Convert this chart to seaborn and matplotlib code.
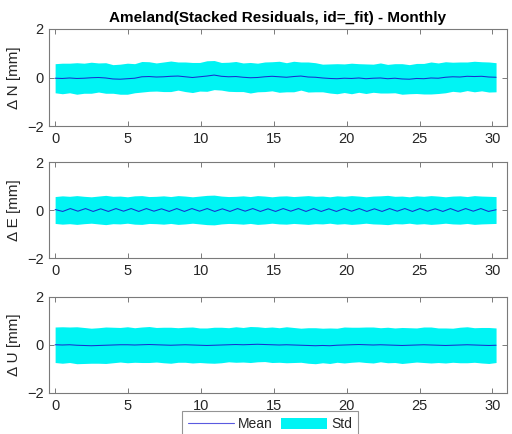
import numpy as np
import matplotlib
matplotlib.use("Agg")
import matplotlib.pyplot as plt
import seaborn as sns
import pandas as pd

# Stacked residuals folded onto a monthly cycle (days), per component, in mm
n_mean = [-0.03, -0.04, -0.02, -0.04, -0.03, -0.01, 0.00, -0.02, -0.06, -0.07,
          -0.05, -0.03, 0.03, 0.04, 0.02, 0.03, 0.05, 0.06, 0.03, 0.00,
          0.03, 0.06, 0.10, 0.05, 0.03, 0.04, 0.01, -0.01, 0.00, 0.03,
          0.05, 0.03, 0.01, 0.04, 0.06, 0.02, 0.01, -0.02, -0.04, -0.05,
          -0.03, -0.04, -0.02, -0.05, -0.03, -0.02, -0.05, -0.03, -0.06, -0.07,
          -0.04, -0.05, -0.02, -0.03, 0.01, 0.03, 0.02, 0.05, 0.04, 0.05,
          0.02, 0.01]
n_std = [0.60, 0.63, 0.61, 0.65, 0.62, 0.64, 0.60, 0.63, 0.59, 0.62,
         0.64, 0.60, 0.63, 0.61, 0.58, 0.61, 0.63, 0.58, 0.61, 0.62,
         0.59, 0.63, 0.60, 0.57, 0.60, 0.62, 0.59, 0.63, 0.59, 0.61,
         0.60, 0.64, 0.60, 0.63, 0.58, 0.62, 0.60, 0.57, 0.60, 0.62,
         0.59, 0.63, 0.59, 0.61, 0.58, 0.62, 0.59, 0.60, 0.63, 0.60,
         0.62, 0.63, 0.66, 0.63, 0.64, 0.60, 0.62, 0.59, 0.63, 0.60,
         0.62, 0.60]

e_mean = [0.02, -0.06, 0.06, -0.05, 0.06, -0.06, 0.05, -0.06, 0.06, -0.05,
          0.06, -0.06, 0.06, -0.05, 0.05, -0.06, 0.06, -0.06, 0.06, -0.05,
          0.06, -0.06, 0.05, -0.06, 0.06, -0.05, 0.06, -0.06, 0.05, -0.06,
          0.06, -0.05, 0.06, -0.06, 0.06, -0.06, 0.05, -0.06, 0.06, -0.05,
          0.06, -0.06, 0.05, -0.06, 0.06, -0.05, 0.06, -0.06, 0.06, -0.05,
          0.05, -0.06, 0.06, -0.06, 0.06, -0.05, 0.06, -0.06, 0.01]
e_std = [0.56, 0.59, 0.57, 0.60, 0.57, 0.55, 0.58, 0.61, 0.57, 0.58,
         0.55, 0.59, 0.60, 0.56, 0.57, 0.59, 0.56, 0.60, 0.58, 0.55,
         0.58, 0.61, 0.62, 0.58, 0.56, 0.57, 0.59, 0.56, 0.60, 0.58,
         0.55, 0.58, 0.59, 0.56, 0.58, 0.60, 0.57, 0.58, 0.55, 0.59,
         0.57, 0.60, 0.58, 0.55, 0.58, 0.59, 0.61, 0.57, 0.58, 0.55,
         0.59, 0.57, 0.60, 0.58, 0.55, 0.58, 0.59, 0.56, 0.60, 0.58,
         0.57, 0.56]

u_mean = [0.01, 0.00, 0.01, -0.01, -0.02, -0.03, -0.02, -0.01, 0.00, 0.01,
          0.01, 0.00, 0.01, 0.02, 0.01, 0.00, -0.01, 0.00, 0.01, 0.00,
          -0.01, -0.02, -0.01, 0.00, 0.01, 0.02, 0.01, 0.02, 0.03, 0.02,
          0.01, 0.00, 0.01, 0.00, -0.01, -0.02, -0.03, -0.02, -0.03, -0.01,
          0.00, 0.01, 0.02, 0.01, 0.00, 0.01, 0.00, -0.01, -0.02, -0.01,
          0.00, 0.01, 0.00, -0.01, -0.02, -0.01, 0.00, 0.01, 0.00, -0.01,
          -0.02, -0.01]
u_std = [0.74, 0.76, 0.74, 0.77, 0.75, 0.73, 0.74, 0.76, 0.74, 0.72,
         0.75, 0.72, 0.74, 0.75, 0.72, 0.74, 0.75, 0.72, 0.73, 0.75,
         0.72, 0.73, 0.75, 0.74, 0.71, 0.74, 0.72, 0.75, 0.73, 0.71,
         0.74, 0.72, 0.75, 0.73, 0.71, 0.74, 0.75, 0.72, 0.74, 0.71,
         0.75, 0.73, 0.72, 0.74, 0.75, 0.71, 0.74, 0.72, 0.75, 0.73,
         0.71, 0.74, 0.75, 0.72, 0.73, 0.71, 0.74, 0.75, 0.72, 0.74,
         0.75, 0.72]

components = ["N", "E", "U"]
means = [n_mean, e_mean, u_mean]
stds = [n_std, e_std, u_std]
x_ticks = [0, 5, 10, 15, 20, 25, 30]
y_ticks = [-2, 0, 2]
last_day = 30.25

sns.set_theme(style="ticks")
plt.rcParams["font.family"] = ["Liberation Sans", "DejaVu Sans"]

W, H = 512, 434
fig = plt.figure(figsize=(W / 100, H / 100), dpi=100)

# axes boxes in pixel coords: (left, top, right, bottom)
boxes = [(49, 29, 507, 126), (49, 162, 507, 258), (49, 297, 507, 393)]
frame_col = "#7a7a7a"
text_col = "#262626"

axes = []
for comp, m, s, (l, t, r, b) in zip(components, means, stds, boxes):
    ax = fig.add_axes([l / W, (H - b) / H, (r - l) / W, (b - t) / H])
    m = np.asarray(m)
    s = np.asarray(s)
    d_std = np.linspace(0, last_day, len(s))
    d_mean = np.linspace(0, last_day, len(m))
    center = m if len(m) == len(s) else np.zeros_like(s)
    ax.fill_between(d_std, center - s, center + s, color="#00f4f4",
                    linewidth=0, label="Std", zorder=1)
    df = pd.DataFrame({"day": d_mean, "value": m})
    sns.lineplot(data=df, x="day", y="value", ax=ax, color="#1530d0",
                 linewidth=0.75, label="Mean", legend=False, zorder=2)
    ax.set_xlim(-0.42, 31)
    ax.set_ylim(-2, 2)
    ax.set_xticks(x_ticks)
    ax.set_yticks(y_ticks)
    ax.tick_params(direction="in", length=3.5, width=0.7, colors=frame_col,
                   labelcolor=text_col, labelsize=10.5, top=True, right=True,
                   pad=4)
    for sp in ax.spines.values():
        sp.set_visible(True)
        sp.set_color(frame_col)
        sp.set_linewidth(0.8)
    ax.set_xlabel("")
    ax.set_ylabel(f"\u0394 {comp} [mm]", fontsize=11, color=text_col)
    ax.yaxis.set_label_coords(-0.062, 0.5)
    axes.append(ax)

axes[0].set_title("Ameland(Stacked Residuals, id=_fit) - Monthly",
                  fontsize=11, fontweight="bold", color="black", pad=5)

handles, labels = axes[2].get_legend_handles_labels()
order = [labels.index("Mean"), labels.index("Std")]
leg = fig.legend([handles[i] for i in order], [labels[i] for i in order],
                 loc="upper center", bbox_to_anchor=(270 / W, (H - 411) / H),
                 ncol=2, frameon=True, fancybox=False, fontsize=10,
                 handlelength=3.3, handleheight=0.9, columnspacing=0.6,
                 handletextpad=0.3, borderpad=0.45, borderaxespad=0,
                 edgecolor=frame_col)
leg.get_frame().set_linewidth(0.8)
for line in leg.get_lines():
    line.set_color("#5a5ae0")
    line.set_linewidth(0.8)

fig.savefig("out.png", dpi=100, facecolor="white")
